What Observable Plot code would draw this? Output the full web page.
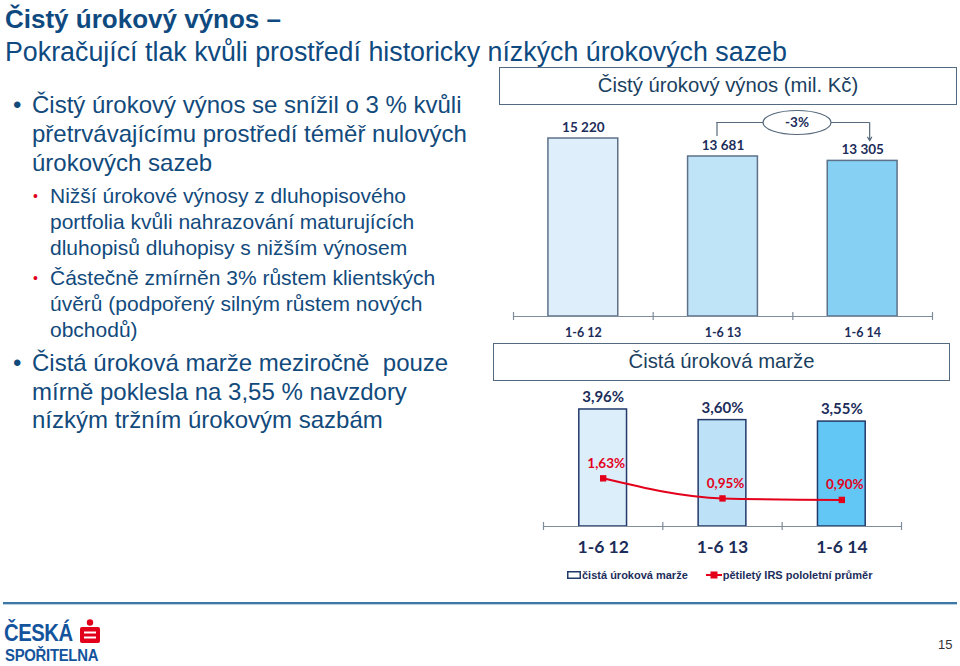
<!DOCTYPE html>
<html><head><meta charset="utf-8">
<script src="https://cdn.jsdelivr.net/npm/d3@7"></script>
<script src="https://cdn.jsdelivr.net/npm/@observablehq/plot@0.6"></script>
<style>
body{margin:0;background:#fff;}
#page{position:relative;width:960px;height:666px;overflow:hidden;font-family:"Liberation Sans",Arial,sans-serif;color:#124a7c;}
.abs{position:absolute;white-space:nowrap;}
.l1{font-size:24px;line-height:29px;}
.l2{font-size:21px;line-height:26px;}
.box{position:absolute;border:1.5px solid #52697f;box-sizing:border-box;text-align:center;color:#1b3f60;font-size:20.3px;}
</style></head>
<body><div id="page">
<div class="abs" style="left:5px;top:4px;font-size:26px;line-height:30px;font-weight:bold;color:#0e4a80;">Čistý úrokový výnos –</div>
<div class="abs" style="left:5px;top:37px;font-size:26.8px;line-height:30px;color:#0e4a80;">Pokračující tlak kvůli prostředí historicky nízkých úrokových sazeb</div>

<div class="abs l1" style="left:13px;top:90px;">•</div>
<div class="abs l1" style="left:32px;top:90px;">Čistý úrokový výnos se snížil o 3 % kvůli<br>přetrvávajícímu prostředí téměř nulových<br>úrokových sazeb</div>
<div class="abs l2" style="left:33px;top:183px;color:#e3001b;font-size:14px;">•</div>
<div class="abs l2" style="left:50px;top:183px;">Nižší úrokové výnosy z dluhopisového<br>portfolia kvůli nahrazování maturujících<br>dluhopisů dluhopisy s nižším výnosem</div>
<div class="abs l2" style="left:33px;top:265px;color:#e3001b;font-size:14px;">•</div>
<div class="abs l2" style="left:50px;top:265px;">Částečně zmírněn 3% růstem klientských<br>úvěrů (podpořený silným růstem nových<br>obchodů)</div>
<div class="abs l1" style="left:13px;top:349px;line-height:28.5px;">•</div>
<div class="abs l1" style="left:32px;top:349px;line-height:28.5px;">Čistá úroková marže meziročně&nbsp; pouze<br>mírně poklesla na 3,55 % navzdory<br>nízkým tržním úrokovým sazbám</div>

<div class="box" style="left:499px;top:67px;width:458px;height:38px;line-height:35px;">Čistý úrokový výnos (mil. Kč)</div>
<div class="box" style="left:493px;top:343px;width:457px;height:38px;line-height:35px;">Čistá úroková marže</div>

<div id="chart1" style="position:absolute;left:500px;top:108px;"></div>
<div id="chart2" style="position:absolute;left:500px;top:385px;"></div>

<div class="abs" style="left:567px;top:569px;font-size:11px;font-weight:bold;color:#1c2d5a;display:flex;align-items:center;">
  <svg width="14" height="10" style="margin-right:1px"><rect x="0.75" y="1.75" width="12.5" height="6.5" fill="#fff" stroke="#1f3a6b" stroke-width="1.5"/></svg>
  <span>čistá úroková marže</span>
  <svg width="16" height="10" style="margin-left:18px;margin-right:1px"><line x1="0" y1="5" x2="16" y2="5" stroke="#e3001b" stroke-width="2"/><rect x="4.5" y="1.5" width="7" height="7" fill="#e3001b"/></svg>
  <span>pětiletý IRS pololetní průměr</span>
</div>

<div style="position:absolute;left:3px;top:602px;width:954px;height:2px;background:#3d78a6;"></div>
<div style="position:absolute;left:3px;top:604px;width:954px;height:1px;background:#b9d0e3;"></div>

<div class="abs" style="left:4px;top:620px;font-family:'Liberation Sans',sans-serif;font-weight:bold;font-size:23px;letter-spacing:-0.5px;color:#13549c;line-height:26px;transform:scaleX(0.88);transform-origin:left top;">ČESKÁ</div>
<div class="abs" style="left:5px;top:647px;font-family:'Liberation Sans',sans-serif;font-weight:bold;font-size:16px;letter-spacing:-0.3px;color:#13549c;line-height:18px;transform:scaleX(0.93);transform-origin:left top;">SPOŘITELNA</div>
<svg style="position:absolute;left:79px;top:619px;" width="22" height="26">
  <circle cx="11" cy="3.5" r="3.2" fill="#e3001b"/>
  <rect x="1" y="8" width="20" height="16" rx="2" fill="#e3001b"/>
  <rect x="5" y="12.5" width="12" height="2" fill="#fff"/>
  <rect x="5" y="17.5" width="12" height="2" fill="#fff"/>
</svg>
<div class="abs" style="left:938px;top:637px;font-size:13px;color:#333;">15</div>
</div>

<script>
// ---- data ----
const categories = ["1-6 12", "1-6 13", "1-6 14"];
const netInterestIncome = [15220, 13681, 13305];   // mil. Kč
const netInterestMargin = [3.96, 3.60, 3.55];       // %
const irsAverage = [1.63, 0.95, 0.90];              // %

// ---- styles ----
const niiFills = ["#deeefb", "#bfe3f7", "#86d0f3"];
const nimFills = ["#ddeefb", "#bde2f7", "#63c7f6"];
const navy = "#1c2d5a";
const red = "#e3001b";
const axisGrey = "#7f8c99";
const labelFont = "Lato, 'Open Sans', sans-serif";

const loc = d3.formatLocale({decimal: ",", thousands: " ", grouping: [3], currency: ["", ""]});
const fmtInt = loc.format(",d");
const fmtPct = v => loc.format(".2f")(v) + "%";

const niiData = categories.map((c, i) => ({i, c, v: netInterestIncome[i]}));
const nimData = categories.map((c, i) => ({i, c, v: netInterestMargin[i], irs: irsAverage[i]}));

// ellipse symbol for the change badge
const ellipse = {draw(ctx) {
  const rx = 34, ry = 12, k = 0.5523;
  ctx.moveTo(rx, 0);
  ctx.bezierCurveTo(rx, ry * k, rx * k, ry, 0, ry);
  ctx.bezierCurveTo(-rx * k, ry, -rx, ry * k, -rx, 0);
  ctx.bezierCurveTo(-rx, -ry * k, -rx * k, -ry, 0, -ry);
  ctx.bezierCurveTo(rx * k, -ry, rx, -ry * k, rx, 0);
  ctx.closePath();
}};

const change = Math.round((netInterestIncome[2] / netInterestIncome[1] - 1) * 100);
const bracketY = d3.max(netInterestIncome) * 1.09;
const bracketStart = netInterestIncome[1] * 1.125;
const arrowEnd = netInterestIncome[2] * 1.13;
const bounds = [-0.5, 0.5, 1.5, 2.5];

const chart1 = Plot.plot({
  width: 450, height: 240,
  marginLeft: 13, marginRight: 18, marginTop: 0, marginBottom: 32,
  x: {domain: [-0.5, 2.5], axis: null},
  y: {domain: [0, d3.max(netInterestIncome)], range: [208, 30], axis: null},
  color: {type: "identity"},
  style: {background: "transparent", overflow: "visible"},
  marks: [
    Plot.rectY(niiData, {x1: d => d.i - 0.25, x2: d => d.i + 0.25, y1: 0, y2: "v", fill: d => niiFills[d.i], stroke: "#5d7189", strokeWidth: 1.5}),
    Plot.ruleY([0], {x1: -0.5, x2: 2.5, stroke: axisGrey, strokeWidth: 1.2}),
    Plot.ruleX(bounds, {x: d => d, y1: 0, y2: 0, insetTop: -4, insetBottom: -4, stroke: axisGrey, strokeWidth: 1.2}),
    Plot.text(niiData, {x: "i", y: "v", text: d => fmtInt(d.v), dy: -11, fill: navy, fontFamily: labelFont, fontWeight: "bold", fontSize: 13.5}),
    Plot.text(niiData, {x: "i", y: 0, text: "c", dy: 16, fill: navy, fontFamily: labelFont, fontWeight: "bold", fontSize: 12.5}),
    Plot.ruleX([1], {x: d => d, y1: bracketStart, y2: bracketY, dx: -6, stroke: "#56687a", strokeWidth: 1.2}),
    Plot.ruleY([bracketY], {y: d => d, x1: 1, x2: 2, insetLeft: -6, insetRight: -7, stroke: "#56687a", strokeWidth: 1.2}),
    Plot.arrow([0], {x1: 2, x2: 2, y1: bracketY, y2: arrowEnd, dx: 7, headLength: 5, stroke: "#56687a", strokeWidth: 1.2}),
    Plot.dot([0], {x: () => 1.53, y: () => bracketY, symbol: ellipse, fill: "#fff", stroke: "#56687a", strokeWidth: 1.2}),
    Plot.text([change], {x: () => 1.53, y: () => bracketY, text: d => d + "%", fill: navy, fontFamily: labelFont, fontWeight: "bold", fontSize: 13.5})
  ]
});
document.getElementById("chart1").append(chart1);

const chart2 = Plot.plot({
  width: 450, height: 200,
  marginLeft: 43, marginRight: 49, marginTop: 0, marginBottom: 59,
  x: {domain: [-0.5, 2.5], axis: null},
  y: {domain: [0, 4], range: [141, 22.8], axis: null},
  color: {type: "identity"},
  style: {background: "transparent", overflow: "visible"},
  marks: [
    Plot.rectY(nimData, {x1: d => d.i - 0.2, x2: d => d.i + 0.2, y1: 0, y2: "v", fill: d => nimFills[d.i], stroke: "#22396a", strokeWidth: 1.5}),
    Plot.ruleY([0], {x1: -0.5, x2: 2.5, stroke: axisGrey, strokeWidth: 1.2}),
    Plot.ruleX(bounds, {x: d => d, y1: 0, y2: 0, insetTop: -4, insetBottom: -4, stroke: axisGrey, strokeWidth: 1.2}),
    Plot.text(nimData, {x: "i", y: "v", text: d => fmtPct(d.v), dy: -12, fill: navy, fontFamily: labelFont, fontWeight: "bold", fontSize: 15}),
    Plot.line(nimData, {x: "i", y: "irs", curve: "monotone-x", stroke: red, strokeWidth: 2}),
    Plot.dot(nimData, {x: "i", y: "irs", symbol: "square", r: 3.6, fill: red}),
    Plot.text(nimData, {x: "i", y: "irs", text: d => fmtPct(d.irs), dx: 3, dy: -15, fill: red, fontFamily: labelFont, fontWeight: "bold", fontSize: 13.5}),
    Plot.text(nimData, {x: "i", y: 0, text: "c", dy: 21, fill: navy, fontFamily: labelFont, fontWeight: "bold", fontSize: 17.5})
  ]
});
document.getElementById("chart2").append(chart2);
</script>
</body></html>
